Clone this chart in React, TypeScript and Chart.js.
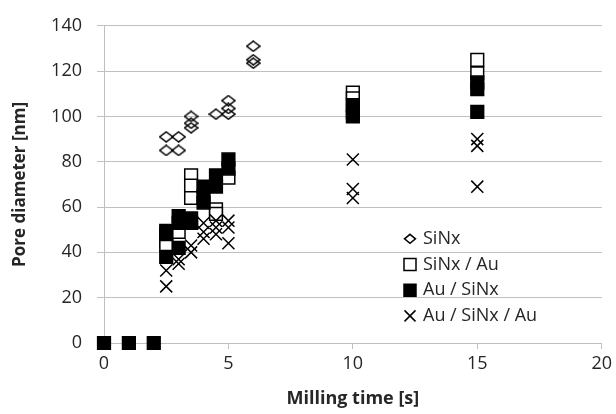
import React, { useEffect, useRef } from 'react';
import { Chart, registerables } from 'chart.js';

Chart.register(...registerables);

// ---- Data ----
const seriesLabels = ['SiNx', 'SiNx / Au', 'Au / SiNx', 'Au / SiNx / Au'];

const sinxX = [2.5, 2.5, 3, 3, 3.5, 3.5, 3.5, 4.5, 5, 5, 5, 6, 6, 6];
const sinxY = [91, 85, 91, 85, 100, 97, 95, 101, 107, 103.5, 101, 131, 125, 123.5];

const sinxAuX = [2.5, 2.5, 3, 3.5, 3.5, 3.5, 4.5, 4.5, 5, 10, 10, 15, 15];
const sinxAuY = [45, 43, 49, 74, 69.5, 64, 59, 57, 73, 110.5, 108, 125, 119];

const auSinxX = [0, 1, 2, 2.5, 2.5, 2.5, 3, 3, 3, 3.5, 3.5, 4, 4, 4, 4.5, 4.5, 5, 5, 10, 10, 10, 15, 15, 15];
const auSinxY = [0, 0, 0, 49.5, 48, 38, 56, 53, 42, 55, 53, 69, 64.5, 62, 74, 69, 81, 77, 105, 102, 100, 115, 112, 102];

const auSinxAuX = [2.5, 2.5, 3, 3, 3.5, 3.5, 4, 4, 4, 4.5, 4.5, 4.5, 5, 5, 5, 10, 10, 10, 15, 15, 15];
const auSinxAuY = [32, 25, 37, 35, 43, 40, 49, 46, 53, 54, 51, 48, 54, 51, 44, 81, 68, 64, 90, 87, 69];

const xTickValues = [0, 5, 10, 15, 20];
const yTickValues = [0, 20, 40, 60, 80, 100, 120, 140];

const xTitle = 'Milling time [s]';
const yTitle = 'Pore diameter [nm]';

const FONT = '"Open Sans", Lato, "Liberation Sans", sans-serif';
const GRID = '#bfbfbf';
const TEXT = '#262626';

function pts(xs: number[], ys: number[]) {
  return xs.map((x, i) => ({ x, y: ys[i] }));
}

function makeDiamond(w: number, h: number, lw: number) {
  const c = document.createElement('canvas');
  c.width = w + 2;
  c.height = h + 2;
  const ctx = c.getContext('2d')!;
  const cx = c.width / 2;
  const cy = c.height / 2;
  ctx.strokeStyle = '#000';
  ctx.lineWidth = lw;
  ctx.beginPath();
  ctx.moveTo(cx, cy - h / 2);
  ctx.lineTo(cx + w / 2, cy);
  ctx.lineTo(cx, cy + h / 2);
  ctx.lineTo(cx - w / 2, cy);
  ctx.closePath();
  ctx.stroke();
  return c;
}

function drawMarker(ctx: CanvasRenderingContext2D, kind: string, x: number, y: number) {
  ctx.save();
  ctx.strokeStyle = '#000';
  ctx.lineWidth = 1.5;
  ctx.beginPath();
  if (kind === 'diamond') {
    const rx = 5.5;
    const ry = 4.5;
    ctx.moveTo(x, y - ry);
    ctx.lineTo(x + rx, y);
    ctx.lineTo(x, y + ry);
    ctx.lineTo(x - rx, y);
    ctx.closePath();
    ctx.stroke();
  } else if (kind === 'open') {
    const s = 6;
    ctx.rect(x - s, y - s, 2 * s, 2 * s);
    ctx.fillStyle = '#fff';
    ctx.fill();
    ctx.stroke();
  } else if (kind === 'filled') {
    const s = 6;
    ctx.rect(x - s, y - s, 2 * s, 2 * s);
    ctx.fillStyle = '#000';
    ctx.fill();
    ctx.stroke();
  } else {
    const h = 5.5;
    ctx.moveTo(x - h, y - h);
    ctx.lineTo(x + h, y + h);
    ctx.moveTo(x + h, y - h);
    ctx.lineTo(x - h, y + h);
    ctx.stroke();
  }
  ctx.restore();
}

const legendKinds = ['diamond', 'open', 'filled', 'cross'];

const insideLegend = {
  id: 'insideLegend',
  afterDraw(chart: any) {
    const ctx = chart.ctx as CanvasRenderingContext2D;
    const area = chart.chartArea;
    const mx = area.left + 306;
    const tx = area.left + 319;
    const y0 = area.top + 213;
    const dy = 25.7;
    ctx.save();
    ctx.font = `18px ${FONT}`;
    ctx.textBaseline = 'middle';
    ctx.textAlign = 'left';
    chart.data.datasets.forEach((ds: any, i: number) => {
      const y = y0 + i * dy;
      drawMarker(ctx, legendKinds[i], mx, y);
      ctx.fillStyle = TEXT;
      ctx.fillText(ds.label, tx, y);
    });
    ctx.restore();
  },
};

export default function App() {
  const ref = useRef<HTMLCanvasElement | null>(null);

  useEffect(() => {
    if (!ref.current) return;
    const diamond = makeDiamond(13, 10, 1.5);
    const chart = new Chart(ref.current, {
      type: 'scatter',
      data: {
        datasets: [
          {
            label: seriesLabels[0],
            data: pts(sinxX, sinxY),
            pointStyle: diamond,
            pointRadius: 6.5,
            clip: false,
            order: 4,
          },
          {
            label: seriesLabels[1],
            data: pts(sinxAuX, sinxAuY),
            pointStyle: 'rect',
            pointRadius: 9,
            pointBorderWidth: 1.5,
            pointBorderColor: '#000',
            pointBackgroundColor: '#fff',
            clip: false,
            order: 3,
          },
          {
            label: seriesLabels[2],
            data: pts(auSinxX, auSinxY),
            pointStyle: 'rect',
            pointRadius: 9,
            pointBorderWidth: 1.5,
            pointBorderColor: '#000',
            pointBackgroundColor: '#000',
            clip: false,
            order: 2,
          },
          {
            label: seriesLabels[3],
            data: pts(auSinxAuX, auSinxAuY),
            pointStyle: 'crossRot',
            pointRadius: 8.5,
            pointBorderWidth: 1.5,
            pointBorderColor: '#000',
            pointBackgroundColor: '#000',
            clip: false,
            order: 1,
          },
        ] as any,
      },
      options: {
        animation: false,
        responsive: false,
        maintainAspectRatio: false,
        layout: { autoPadding: false, padding: { left: 0, right: 12, top: 21, bottom: 0 } },
        plugins: {
          legend: { display: false },
          tooltip: { enabled: false },
        },
        scales: {
          x: {
            type: 'linear',
            min: 0,
            max: 20,
            afterBuildTicks: (s: any) => {
              s.ticks = xTickValues.map((v) => ({ value: v }));
            },
            afterFit: (s: any) => {
              s.height = 71;
            },
            grid: {
              drawOnChartArea: false,
              drawTicks: true,
              tickLength: 6,
              color: GRID,
              tickColor: GRID,
            },
            border: { display: true, color: GRID, width: 1 },
            ticks: {
              color: TEXT,
              font: { family: FONT, size: 18 },
              padding: 4,
              maxRotation: 0,
            },
            title: {
              display: true,
              text: xTitle,
              color: TEXT,
              font: { family: FONT, size: 18, weight: 'bold' },
              padding: { top: 0, bottom: 4 },
            },
          },
          y: {
            type: 'linear',
            min: 0,
            max: 140,
            afterBuildTicks: (s: any) => {
              s.ticks = yTickValues.map((v) => ({ value: v }));
            },
            afterFit: (s: any) => {
              s.width = 104;
            },
            grid: {
              drawOnChartArea: true,
              drawTicks: true,
              tickLength: 7,
              color: GRID,
              tickColor: GRID,
            },
            border: { display: true, color: GRID, width: 1 },
            ticks: {
              color: TEXT,
              font: { family: FONT, size: 18 },
              padding: 15,
            },
            title: {
              display: true,
              text: yTitle,
              color: TEXT,
              font: { family: FONT, size: 17, weight: 'bold' },
              padding: { top: 10, bottom: 0 },
            },
          },
        },
      },
      plugins: [insideLegend],
    });
    return () => chart.destroy();
  }, []);

  return (
    <div style={{ position: 'absolute', left: 0, top: 0, width: 616, height: 414, background: '#fff' }}>
      <canvas ref={ref} width={616} height={414} style={{ width: 616, height: 414, display: 'block' }} />
    </div>
  );
}
